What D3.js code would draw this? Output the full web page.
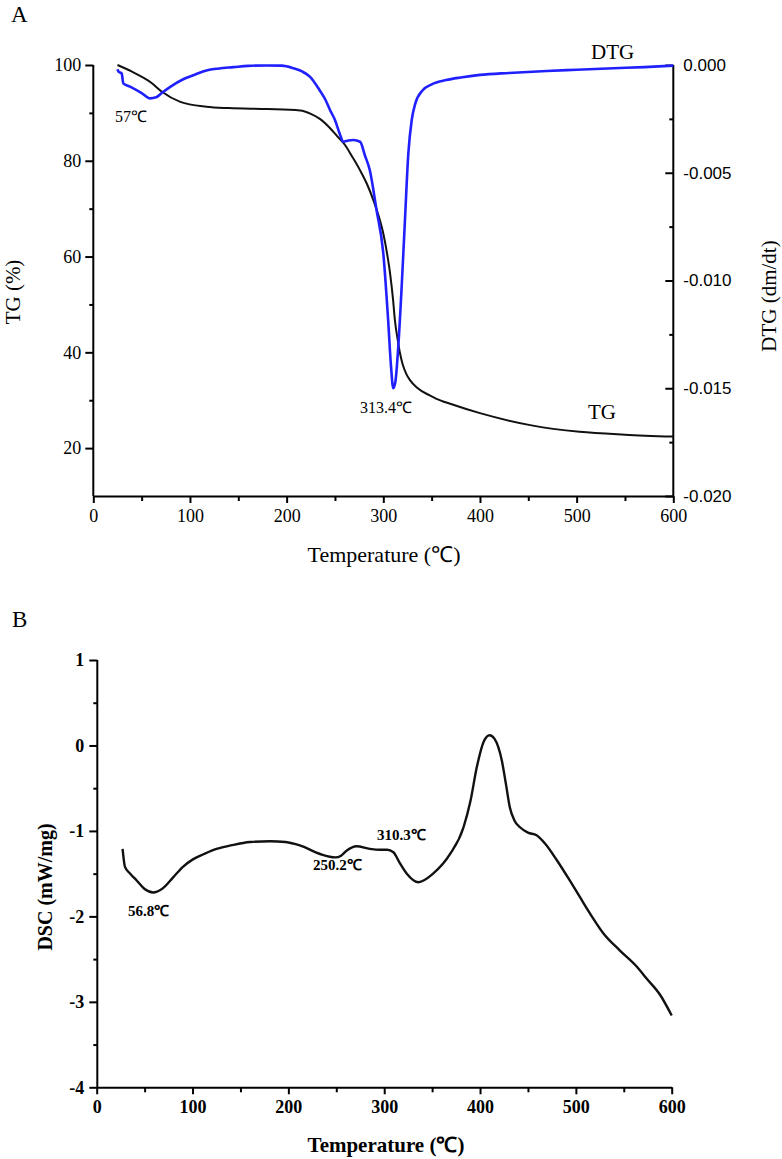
<!DOCTYPE html>
<html><head><meta charset="utf-8">
<script src="https://cdn.jsdelivr.net/npm/d3@7"></script>
<style>
body{margin:0;background:#fff;}
svg text{fill:#000;}
</style></head>
<body>
<svg id="c" width="782" height="1159"></svg>
<script>
// ---------- Panel A data ----------
const tgTemp = [25, 40, 60, 71, 90, 117, 140, 180, 214, 225, 234, 245, 252, 260.4, 268, 276, 283, 289.7, 295, 300, 304, 307, 310, 312, 315, 317.3, 320, 324, 327.6, 335, 348, 355, 370, 400, 452, 503, 550, 600];
const tgVal  = [100, 98.6, 96.3, 94.4, 92.3, 91.3, 91.0, 90.8, 90.5, 89.8, 88.8, 86.8, 85.2, 83.3, 80.8, 78, 75.2, 71.8, 68.6, 64.8, 60.5, 56.5, 51.2, 46.7, 42.5, 39.8, 37.5, 35.4, 34.2, 32.6, 31.0, 30.3, 29.2, 27.3, 24.8, 23.4, 22.8, 22.4];

const dtgTemp = [25, 26, 29.4, 31, 38, 50, 58.7, 65, 70.7, 80, 93, 105, 117, 130, 145, 160, 179, 195, 207, 216, 224, 234, 240, 245, 250, 255, 258.6, 264, 269, 276, 281, 286, 293, 300, 305, 308, 310.3, 312.5, 315.5, 319, 322.4, 325.9, 329.4, 333, 341, 350, 365, 380, 400, 430, 469, 500, 538, 570, 600];
const dtgVal  = [-0.0002, -0.0003, -0.0004, -0.00085, -0.001, -0.0013, -0.00155, -0.0015, -0.0013, -0.001, -0.00066, -0.00045, -0.00025, -0.00016, -0.0001, -0.00004, -0.00002, -0.00003, -0.00015, -0.0003, -0.00054, -0.00116, -0.0016, -0.0021, -0.00255, -0.0032, -0.00356, -0.0035, -0.00348, -0.00356, -0.0042, -0.00487, -0.00673, -0.00874, -0.01183, -0.0140, -0.0150, -0.0147, -0.01307, -0.01029, -0.0072, -0.0041, -0.00255, -0.0018, -0.00116, -0.0009, -0.0007, -0.00058, -0.00046, -0.00037, -0.00028, -0.00022, -0.00015, -0.0001, -0.00003];

const xTicksA = [0, 100, 200, 300, 400, 500, 600];
const tgTicks = [20, 40, 60, 80, 100];
const dtgTicks = [0, -0.005, -0.010, -0.015, -0.020];

// ---------- Panel B data ----------
const dscTemp = [27, 29.5, 35, 41.7, 50, 59, 68, 80, 90, 100.8, 112, 125, 140, 160, 181, 197, 212, 233, 249, 255, 261, 271, 285, 296, 303, 309.6, 316, 323.6, 335.7, 351, 368.8, 382.7, 390, 396.7, 404, 410, 415, 422.8, 427, 431, 436, 442, 450, 459, 468, 480, 492, 504, 515, 528.8, 546, 563.7, 574, 588, 600];
const dscVal  = [-1.21, -1.42, -1.5, -1.58, -1.68, -1.72, -1.68, -1.54, -1.42, -1.33, -1.27, -1.21, -1.17, -1.13, -1.12, -1.13, -1.17, -1.27, -1.31, -1.29, -1.23, -1.18, -1.21, -1.22, -1.22, -1.25, -1.37, -1.50, -1.60, -1.5, -1.27, -0.96, -0.65, -0.25, 0.05, 0.12, 0.08, -0.18, -0.45, -0.72, -0.88, -0.96, -1.02, -1.05, -1.15, -1.34, -1.55, -1.77, -1.97, -2.2, -2.4, -2.59, -2.73, -2.92, -3.16];
const dscTicks = [1, 0, -1, -2, -3, -4];

const serif = "'Liberation Serif','Times New Roman',serif";
const sans = "'Liberation Sans',Arial,sans-serif";
const hyph = f => d => f(d).replace("\u2212","-");

const svg = d3.select("#c");

function styleAxis(g, w){
  g.select(".domain").attr("stroke","#000").attr("stroke-width",w);
  g.selectAll(".tick line").attr("stroke","#000").attr("stroke-width",w);
}
function minorAxis(g, axisGen, w){
  g.call(axisGen);
  g.select(".domain").remove();
  g.selectAll("text").remove();
  g.selectAll(".tick line").attr("stroke","#000").attr("stroke-width",w);
}

// ================= Panel A =================
const xA = d3.scaleLinear().domain([0,600]).range([93.3,673.3]);
const yTG = d3.scaleLinear().domain([10,100]).range([496,65]);
const yDTG = d3.scaleLinear().domain([-0.020,0]).range([496,65]);

const gA = svg.append("g");

minorAxis(gA.append("g").attr("transform","translate(0,496)"),
  d3.axisBottom(xA).tickValues(d3.range(50,600,100)).tickSize(5).tickSizeOuter(0), 2);
minorAxis(gA.append("g").attr("transform","translate(93.3,0)"),
  d3.axisLeft(yTG).tickValues([30,50,70,90]).tickSize(4).tickSizeOuter(0), 2);
minorAxis(gA.append("g").attr("transform","translate(673.3,0)"),
  d3.axisRight(yDTG).tickValues([-0.0025,-0.0075,-0.0125,-0.0175]).tickSize(-4).tickSizeOuter(0), 2);

const axXA = gA.append("g").attr("transform","translate(0,496)")
  .call(d3.axisBottom(xA).tickValues(xTicksA).tickSize(7).tickSizeOuter(0).tickPadding(6).tickFormat(d3.format("d")));
styleAxis(axXA,2);
axXA.selectAll("text").attr("font-family",serif).attr("font-size",18);

const axTG = gA.append("g").attr("transform","translate(93.3,0)")
  .call(d3.axisLeft(yTG).tickValues(tgTicks).tickSize(8).tickSizeOuter(0).tickPadding(4).tickFormat(d3.format("d")));
styleAxis(axTG,2);
axTG.select(".domain").attr("d","M0,65V496");
axTG.selectAll("text").attr("font-family",serif).attr("font-size",18);

const axDTG = gA.append("g").attr("transform","translate(673.3,0)")
  .call(d3.axisRight(yDTG).tickValues(dtgTicks).tickSize(-8).tickSizeOuter(0).tickPadding(10).tickFormat(hyph(d3.format(".3f"))));
styleAxis(axDTG,2);
axDTG.select(".domain").attr("d","M0,65V496");
axDTG.selectAll("text").attr("font-family",sans).attr("font-size",17).attr("x",10);

const lineTG = d3.line().x((d,i)=>xA(tgTemp[i])).y(d=>yTG(d)).curve(d3.curveMonotoneX);
gA.append("path").datum(tgVal).attr("d",lineTG).attr("fill","none").attr("stroke","#111").attr("stroke-width",2);

const lineDTG = d3.line().x((d,i)=>xA(dtgTemp[i])).y(d=>yDTG(d)).curve(d3.curveMonotoneX);
gA.append("path").datum(dtgVal).attr("d",lineDTG).attr("fill","none").attr("stroke","#2020ff").attr("stroke-width",2.6);

gA.append("text").attr("x",11).attr("y",22).attr("font-family",serif).attr("font-size",23).text("A");
gA.append("text").attr("transform","translate(20,292) rotate(-90)").attr("text-anchor","middle")
  .attr("font-family",serif).attr("font-size",21).text("TG (%)");
gA.append("text").attr("transform","translate(776,296) rotate(-90)").attr("text-anchor","middle")
  .attr("font-family",serif).attr("font-size",21).text("DTG (dm/dt)");
gA.append("text").attr("x",384).attr("y",562).attr("text-anchor","middle")
  .attr("font-family",serif).attr("font-size",22).text("Temperature (℃)");
gA.append("text").attr("x",115).attr("y",122).attr("font-family",serif).attr("font-size",16).text("57℃");
gA.append("text").attr("x",360).attr("y",413).attr("font-family",serif).attr("font-size",16).text("313.4℃");
gA.append("text").attr("x",591).attr("y",59).attr("font-family",serif).attr("font-size",21).text("DTG");
gA.append("text").attr("x",588).attr("y",419).attr("font-family",serif).attr("font-size",21).text("TG");

// ================= Panel B =================
const xB = d3.scaleLinear().domain([0,600]).range([96.7,671.7]);
const yB = d3.scaleLinear().domain([-4,1]).range([1087.3,660]);
const gB = svg.append("g");

minorAxis(gB.append("g").attr("transform","translate(0,1087.3)"),
  d3.axisBottom(xB).tickValues(d3.range(50,600,100)).tickSize(5).tickSizeOuter(0), 2);
minorAxis(gB.append("g").attr("transform","translate(97.3,0)"),
  d3.axisLeft(yB).tickValues([0.5,-0.5,-1.5,-2.5,-3.5]).tickSize(4).tickSizeOuter(0), 2);

const axXB = gB.append("g").attr("transform","translate(0,1087.3)")
  .call(d3.axisBottom(xB).tickValues(xTicksA).tickSize(7).tickSizeOuter(0).tickPadding(6).tickFormat(d3.format("d")));
styleAxis(axXB,2);
axXB.selectAll("text").attr("font-family",serif).attr("font-size",18).attr("font-weight","bold");

const axYB = gB.append("g").attr("transform","translate(97.3,0)")
  .call(d3.axisLeft(yB).tickValues(dscTicks).tickSize(8).tickSizeOuter(0).tickPadding(5).tickFormat(hyph(d3.format("d"))));
styleAxis(axYB,2);
axYB.select(".domain").attr("d","M0,660V1087.3");
axYB.selectAll("text").attr("font-family",serif).attr("font-size",18).attr("font-weight","bold");

const lineDSC = d3.line().x((d,i)=>xB(dscTemp[i])).y(d=>yB(d)).curve(d3.curveMonotoneX);
gB.append("path").datum(dscVal).attr("d",lineDSC).attr("fill","none").attr("stroke","#111").attr("stroke-width",2.4);

gB.append("text").attr("x",12).attr("y",627).attr("font-family",serif).attr("font-size",23).text("B");
gB.append("text").attr("transform","translate(52,887) rotate(-90)").attr("text-anchor","middle")
  .attr("font-family",serif).attr("font-size",20).attr("font-weight","bold").text("DSC (mW/mg)");
gB.append("text").attr("x",386).attr("y",1152).attr("text-anchor","middle")
  .attr("font-family",serif).attr("font-size",21).attr("font-weight","bold").text("Temperature (℃)");
gB.append("text").attr("x",128).attr("y",916).attr("font-family",serif).attr("font-size",15).attr("font-weight","bold").text("56.8℃");
gB.append("text").attr("x",313).attr("y",870).attr("font-family",serif).attr("font-size",15).attr("font-weight","bold").text("250.2℃");
gB.append("text").attr("x",377).attr("y",840).attr("font-family",serif).attr("font-size",15).attr("font-weight","bold").text("310.3℃");
</script>
</body></html>
